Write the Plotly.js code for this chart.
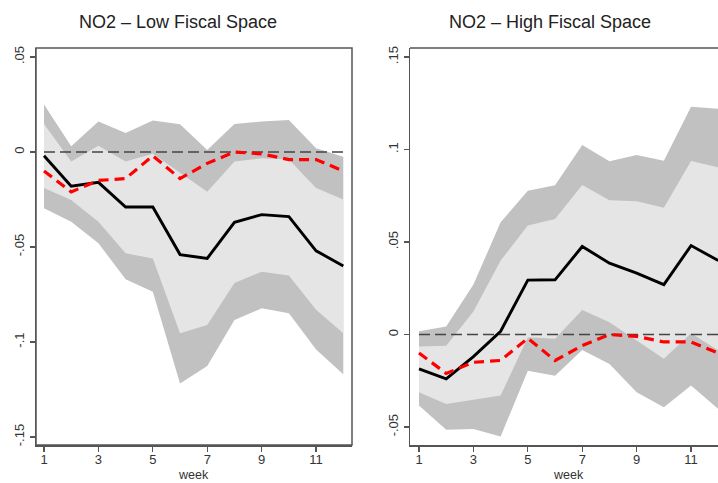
<!DOCTYPE html>
<html>
<head>
<meta charset="utf-8">
<script src="https://cdn.plot.ly/plotly-3.0.1.min.js"></script>
<style>html,body{margin:0;padding:0;background:#fff;}#chart{width:718px;height:483px;}</style>
</head>
<body>
<div id="chart"></div>
<script>
// ---- data ----
const weeks = [1,2,3,4,5,6,7,8,9,10,11,12];

// baseline (all countries) response, red dashed — same in both panels
const baseline = [-0.010,-0.021,-0.015,-0.014,-0.002,-0.014,-0.006,0.000,-0.001,-0.004,-0.004,-0.010];

// Low fiscal space
const lowEst     = [-0.002,-0.018,-0.016,-0.029,-0.029,-0.054,-0.056,-0.037,-0.033,-0.034,-0.052,-0.060];
const lowOuterHi = [0.025,0.003,0.016,0.010,0.0165,0.0146,0.001,0.0147,0.016,0.0168,0.002,-0.0025];
const lowInnerHi = [0.0147,-0.005,0.0033,-0.005,-0.001,-0.011,-0.021,-0.005,-0.0033,-0.004,-0.019,-0.025];
const lowInnerLo = [-0.019,-0.0253,-0.0367,-0.0533,-0.056,-0.0954,-0.091,-0.069,-0.063,-0.065,-0.083,-0.0954];
const lowOuterLo = [-0.0296,-0.0367,-0.048,-0.067,-0.0735,-0.1218,-0.1126,-0.0884,-0.0823,-0.0849,-0.104,-0.117];

// High fiscal space
const highEst     = [-0.0186,-0.024,-0.0119,0.0018,0.0294,0.0296,0.0476,0.0386,0.0332,0.027,0.0481,0.040];
const highOuterHi = [0.0018,0.0043,0.027,0.0607,0.0777,0.0807,0.1024,0.0937,0.097,0.094,0.1232,0.122];
const highInnerHi = [-0.0065,-0.006,0.0125,0.040,0.0589,0.0625,0.0809,0.0726,0.0721,0.0685,0.0938,0.0904];
const highInnerLo = [-0.0312,-0.0375,-0.0353,-0.033,-0.0014,-0.0023,0.0133,0.0067,-0.0032,-0.0131,0.0007,-0.0086];
const highOuterLo = [-0.0384,-0.0515,-0.051,-0.0551,-0.0195,-0.0222,-0.0083,-0.0159,-0.0312,-0.0393,-0.0276,-0.0402];

const xTicks = [1,3,5,7,9,11];
const lowYTicks = [-0.15,-0.1,-0.05,0,0.05];
const lowYText  = ['-.15','-.1','-.05','0','.05'];
const highYTicks = [-0.05,0,0.05,0.1,0.15];
const highYText  = ['-.05','0','.05','.1','.15'];

const titles = ['NO2 \u2013 Low Fiscal Space','NO2 \u2013 High Fiscal Space'];
const xTitle = 'week';

// ---- build ----
const DARK = '#c1c1c1', LIGHT = '#e5e5e5';
function panel(xa, ya, oLo, oHi, iLo, iHi, est) {
  const base = {x: weeks, xaxis: xa, yaxis: ya, mode: 'lines', hoverinfo: 'skip', showlegend: false};
  return [
    Object.assign({}, base, {y: oLo, line: {width: 0, color: DARK}}),
    Object.assign({}, base, {y: oHi, line: {width: 0, color: DARK}, fill: 'tonexty', fillcolor: DARK}),
    Object.assign({}, base, {y: iLo, line: {width: 0, color: LIGHT}}),
    Object.assign({}, base, {y: iHi, line: {width: 0, color: LIGHT}, fill: 'tonexty', fillcolor: LIGHT}),
    Object.assign({}, base, {y: weeks.map(() => 0), line: {width: 1.6, color: '#444', dash: '11px,5px'}}),
    Object.assign({}, base, {y: est, line: {width: 2.9, color: '#000'}}),
    Object.assign({}, base, {y: baseline, line: {width: 3.2, color: '#ff0000', dash: '10px,6px'}})
  ];
}

const data = [].concat(
  panel('x', 'y', lowOuterLo, lowOuterHi, lowInnerLo, lowInnerHi, lowEst),
  panel('x2', 'y2', highOuterLo, highOuterHi, highInnerLo, highInnerHi, highEst)
);

const W = 718, H = 483;
const yDom = [38 / H, 435 / H];
const tickFont = {family: 'Liberation Sans, Arial, sans-serif', size: 13, color: '#333'};
const axisCommon = {
  showgrid: false, zeroline: false, showline: true, linecolor: '#555', linewidth: 1.5,
  ticks: 'outside', ticklen: 5, tickwidth: 1.2, tickcolor: '#555', tickfont: tickFont, fixedrange: true
};

const layout = {
  width: W, height: H,
  margin: {l: 0, r: 0, t: 0, b: 0},
  paper_bgcolor: '#fff', plot_bgcolor: '#fff',
  showlegend: false,
  xaxis: Object.assign({}, axisCommon, {domain: [36 / W, 352 / W], range: [0.706, 12.32], tickvals: xTicks, anchor: 'y', ticklabelstandoff: -3}),
  yaxis: Object.assign({}, axisCommon, {domain: yDom, range: [-0.1542, 0.0547], tickvals: lowYTicks, ticktext: lowYText, tickangle: -90, anchor: 'x'}),
  xaxis2: Object.assign({}, axisCommon, {domain: [410 / W, 1], range: [0.669, 11.99], tickvals: xTicks, anchor: 'y2', ticklabelstandoff: -3}),
  yaxis2: Object.assign({}, axisCommon, {domain: yDom, range: [-0.0597, 0.1549], tickvals: highYTicks, ticktext: highYText, tickangle: -90, anchor: 'x2'}),
  shapes: [
    {type: 'rect', xref: 'x domain', yref: 'y domain', x0: 0, x1: 1, y0: 0, y1: 1, line: {color: '#555', width: 1.5}, layer: 'above'},
    {type: 'line', xref: 'x2 domain', yref: 'y2 domain', x0: 0, x1: 1.05, y0: 1, y1: 1, line: {color: '#555', width: 1.5}, layer: 'above'}
  ],
  annotations: [
    {text: titles[0], xref: 'paper', yref: 'paper', x: 178 / W, y: 1 - 22 / H, xanchor: 'center', yanchor: 'middle', showarrow: false,
     font: {family: 'Liberation Sans, Arial, sans-serif', size: 18, color: '#222'}},
    {text: titles[1], xref: 'paper', yref: 'paper', x: 550 / W, y: 1 - 22 / H, xanchor: 'center', yanchor: 'middle', showarrow: false,
     font: {family: 'Liberation Sans, Arial, sans-serif', size: 18, color: '#222'}},
    {text: xTitle, xref: 'paper', yref: 'paper', x: 194 / W, y: 0, xanchor: 'center', yanchor: 'bottom', showarrow: false, borderpad: 0,
     font: {family: 'Liberation Sans, Arial, sans-serif', size: 12.5, color: '#333'}},
    {text: xTitle, xref: 'paper', yref: 'paper', x: 568 / W, y: 0, xanchor: 'center', yanchor: 'bottom', showarrow: false, borderpad: 0,
     font: {family: 'Liberation Sans, Arial, sans-serif', size: 12.5, color: '#333'}}
  ]
};

Plotly.newPlot('chart', data, layout, {staticPlot: true, displayModeBar: false});
</script>
</body>
</html>
